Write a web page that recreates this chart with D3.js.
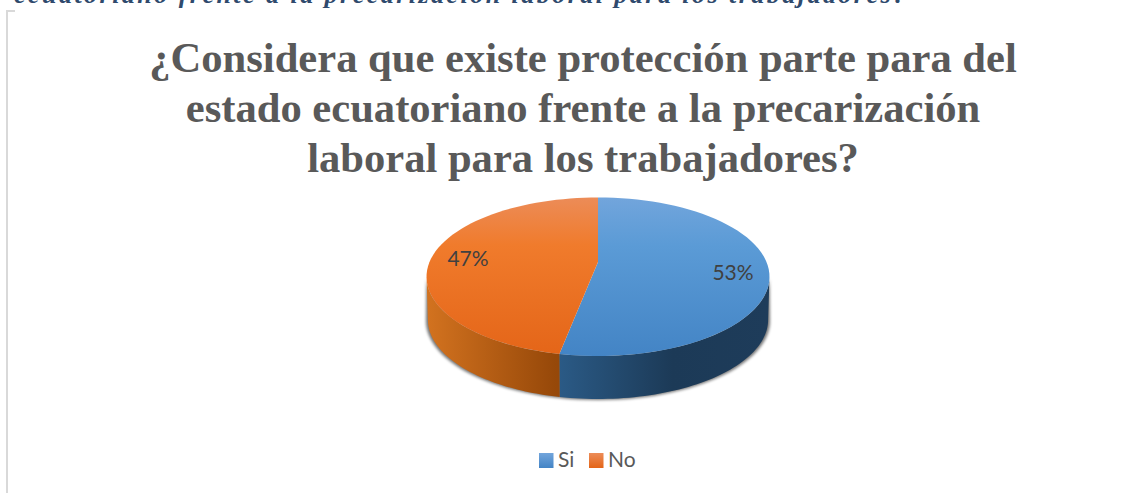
<!DOCTYPE html>
<html><head><meta charset="utf-8">
<script src="https://cdnjs.cloudflare.com/ajax/libs/d3/7.9.0/d3.min.js"></script>
<style>html,body{margin:0;padding:0;background:#fff;overflow:hidden}svg{display:block}</style>
</head><body><svg id="chart" width="1146" height="493"></svg>
<script>
const categories = ["Si", "No"];
const shares = [53, 47];
const labels = ["53%", "47%"];
const titleLines = ["¿Considera que existe protección parte para del", "estado ecuatoriano frente a la precarización", "laboral para los trabajadores?"];
const caption = "ecuatoriano frente a la precarización laboral para los trabajadores?";
const faceStops = [["#72a5dc","#5b9bd6","#4384c5"],["#ec8c58","#f07b2c","#e46518"]];
const wallStops = [[["0","#2b5b87"],["0.55","#1c3a57"],["1","#1e3c5a"]],[["0","#d2721f"],["1","#964809"]]];

const svg = d3.select("#chart");
const defs = svg.append("defs");

// Tilted disc: a unit circle seen in perspective
const disc = {cx:598, cy:262, X:168.5, Y:76.5, p:0.186};
const drop = 43;
function project(theta, offset=0, shrink=1){
  const u = Math.sin(theta), v = -Math.cos(theta), s = 1/(1 - disc.p*v);
  return [disc.cx + shrink*disc.X*u*s, disc.cy + offset + disc.Y*v*s];
}
function arcPoints(a0, a1, offset, shrink){
  return d3.range(0, 61).map(i => project(a0 + (a1-a0)*i/60, offset, shrink));
}
const line = d3.line();
const pie = d3.pie().sort(null).value(d => d);
const slices = pie(shares);

// Paint definitions
slices.forEach((d,i)=>{
  const g = defs.append("linearGradient").attr("id","face"+i).attr("gradientUnits","userSpaceOnUse")
    .attr("x1",0).attr("x2",0).attr("y1",197).attr("y2",357);
  [0,0.3,1].forEach((o,k)=>g.append("stop").attr("offset",o).attr("stop-color",faceStops[i][k]));
  const w = defs.append("linearGradient").attr("id","wall"+i).attr("gradientUnits","userSpaceOnUse")
    .attr("y1",0).attr("y2",0)
    .attr("x1", i===0 ? 556 : 428).attr("x2", i===0 ? 768 : 556);
  wallStops[i].forEach(s=>w.append("stop").attr("offset",s[0]).attr("stop-color",s[1]));
});
const blur = defs.append("filter").attr("id","soft").attr("x","-10%").attr("y","-10%").attr("width","120%").attr("height","120%");
blur.append("feGaussianBlur").attr("stdDeviation",1.6);

// Clipped line of body text above the chart
svg.append("text").text(caption).attr("x",14).attr("y",3)
  .attr("font-family","Liberation Serif").attr("font-size",26).attr("font-weight","bold").attr("font-style","italic")
  .attr("fill","#2f4a6d").attr("textLength",892).attr("lengthAdjust","spacing");

// Chart frame, left edge and stub of the top edge
svg.append("path").attr("d",d3.line()([[15,11],[7,11],[7,493]])).attr("fill","none").attr("stroke","#d9d9d9").attr("stroke-width",2);

// Title
svg.append("g").selectAll("text").data(titleLines).join("text")
  .attr("x",583).attr("y",(d,i)=>72+i*50).attr("text-anchor","middle").text(d=>d)
  .attr("font-family","Liberation Serif").attr("font-size",42.6).attr("font-weight","bold").attr("fill","#595959");

// Soft shadow under the side wall
const rimStart = Math.acos(-disc.p), rimEnd = 2*Math.PI - rimStart;
svg.append("path").attr("d", line(arcPoints(rimStart,rimEnd,0,1).concat(arcPoints(rimEnd,rimStart,drop+1,1.003)))+"Z")
  .attr("fill","#000").attr("opacity",0.55).attr("filter","url(#soft)");

// Side walls
slices.forEach((d,i)=>{
  const a0 = Math.max(d.startAngle, rimStart), a1 = Math.min(d.endAngle, rimEnd);
  const top = arcPoints(a0,a1,0,1), bottom = arcPoints(a1,a0,drop,0.992);
  svg.append("path").attr("d", line(top.concat(bottom))+"Z").attr("fill",`url(#wall${i})`);
});

// Top faces
slices.forEach((d,i)=>{
  const pts = [[disc.cx,disc.cy]].concat(arcPoints(d.startAngle,d.endAngle,0,1));
  svg.append("path").attr("d", line(pts)+"Z").attr("fill",`url(#face${i})`);
});

// Value labels
const labelPos = [[733,280],[468,266]];
svg.append("g").selectAll("text").data(labels).join("text")
  .attr("x",(d,i)=>labelPos[i][0]).attr("y",(d,i)=>labelPos[i][1]).attr("text-anchor","middle").text(d=>d)
  .attr("font-family","Lato").attr("font-size",21).attr("fill","#404040");

// Legend
const legendX = d3.scaleOrdinal().domain(categories).range([539,589]);
categories.forEach((c,i)=>{
  const g = defs.append("linearGradient").attr("id","legend"+i).attr("x1",0).attr("x2",0).attr("y1",0).attr("y2",1);
  [0,1].forEach(o=>g.append("stop").attr("offset",o).attr("stop-color",faceStops[i][o?2:0]));
});
const lg = svg.append("g").selectAll("g").data(categories).join("g");
lg.append("rect").attr("x",d=>legendX(d)).attr("y",453).attr("width",14.5).attr("height",15)
  .attr("fill",(d,i)=>`url(#legend${i})`);
lg.append("text").attr("x",d=>legendX(d)+19).attr("y",467).text(d=>d)
  .attr("font-family","Lato").attr("font-size",21).attr("fill","#595959");
</script></body></html>
